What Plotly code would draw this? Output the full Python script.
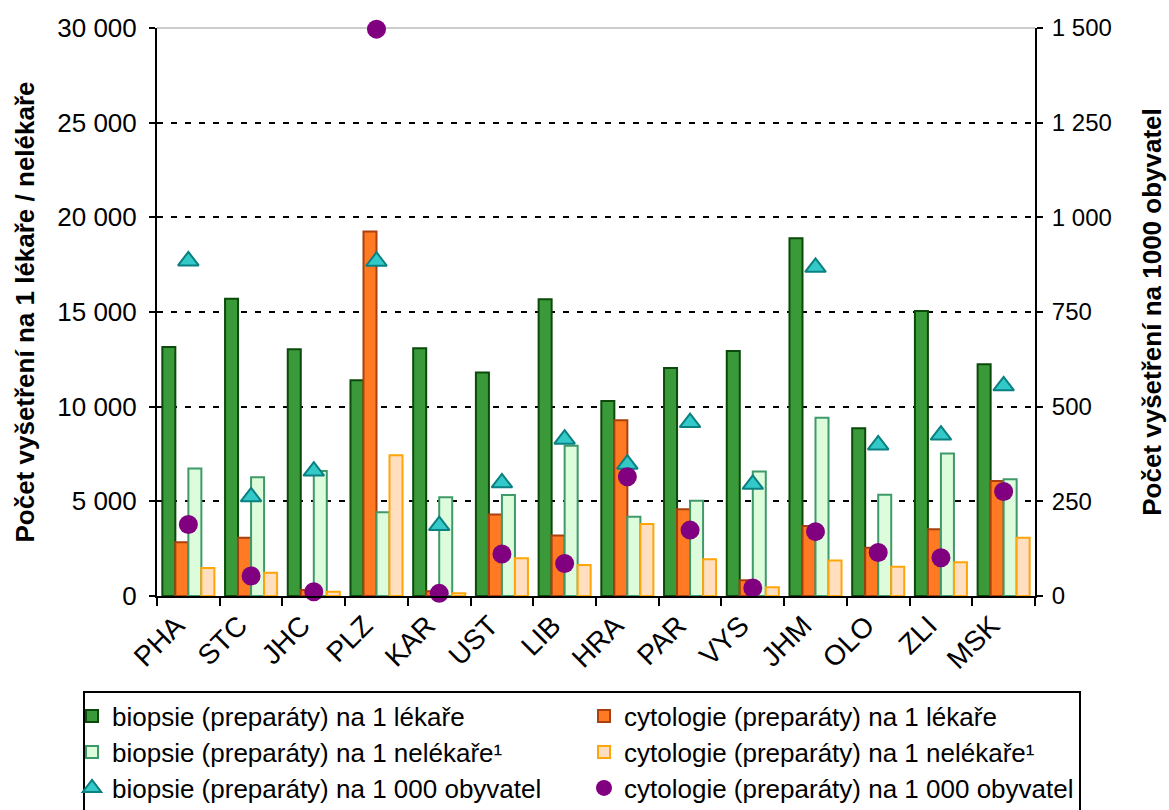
import plotly.graph_objects as go

# Regions (kraje)
regions = ["PHA", "STC", "JHC", "PLZ", "KAR", "UST", "LIB", "HRA", "PAR", "VYS", "JHM", "OLO", "ZLI", "MSK"]

# Examinations per 1 physician / non-physician (left axis)
biopsy_per_doctor = [13150, 15700, 13030, 11400, 13080, 11800, 15680, 10300, 12040, 12940, 18900, 8860, 15050, 12240]
cytology_per_doctor = [2840, 3080, 320, 19250, 250, 4310, 3200, 9280, 4580, 830, 3700, 2550, 3520, 6070]
biopsy_per_nondoctor = [6740, 6270, 6600, 4420, 5210, 5330, 7940, 4190, 5030, 6570, 9420, 5350, 7520, 6160]
cytology_per_nondoctor = [1480, 1230, 220, 7440, 150, 1990, 1640, 3800, 1940, 460, 1870, 1550, 1780, 3080]

# Examinations per 1 000 inhabitants (right axis)
biopsy_per_1000 = [885, 262, 330, 884, 186, 299, 414, 348, 458, 295, 868, 399, 425, 555]
cytology_per_1000 = [189, 53, 11, 1497, 7, 111, 86, 315, 174, 21, 170, 115, 101, 276]

FONT = "Liberation Sans, Arial, sans-serif"

# plot area in pixels (used to place the legend rows and frame in paper units)
W, H = 1169, 810
L, R, T, B = 157, 134, 28, 214
PW, PH = W - L - R, H - T - B


def px_x(px):
    return (px - L) / PW


def px_y(py):
    return (H - B - py) / PH


fig = go.Figure()

bar_styles = [
    ("biopsie (preparáty) na 1 lékaře", biopsy_per_doctor, "#3a9a3a", "#0b4a0b", "legend"),
    ("cytologie (preparáty) na 1 lékaře", cytology_per_doctor, "#ff7a22", "#a8400f", "legend"),
    ("biopsie (preparáty) na 1 nelékaře¹", biopsy_per_nondoctor, "#dcfcdc", "#3f9a6a", "legend2"),
    ("cytologie (preparáty) na 1 nelékaře¹", cytology_per_nondoctor, "#ffdfbf", "#ffa50a", "legend2"),
]
for name, vals, fill, edge, lg in bar_styles:
    fig.add_trace(go.Bar(
        x=regions, y=vals, name=name, legend=lg,
        marker=dict(color=fill, line=dict(color=edge, width=2)),
        yaxis="y",
    ))

fig.add_trace(go.Scatter(
    x=regions, y=biopsy_per_1000, name="biopsie (preparáty) na 1 000 obyvatel",
    mode="markers", yaxis="y2", cliponaxis=False, legend="legend3",
    marker=dict(symbol="triangle-up", size=18, color="#33c9c9",
                line=dict(color="#0a8080", width=2)),
))
fig.add_trace(go.Scatter(
    x=regions, y=cytology_per_1000, name="cytologie (preparáty) na 1 000 obyvatel",
    mode="markers", yaxis="y2", cliponaxis=False, legend="legend3",
    marker=dict(symbol="circle", size=19, color="#800080",
                line=dict(color="#800080", width=0)),
))

legend_common = dict(
    orientation="h", xanchor="left", yanchor="middle", x=px_x(72),
    bgcolor="rgba(0,0,0,0)", borderwidth=0,
    font=dict(size=26), entrywidth=467, entrywidthmode="pixels",
    traceorder="normal", itemwidth=30,
)

fig.update_layout(
    width=W, height=H,
    margin=dict(l=L, r=R, t=T, b=B, autoexpand=False),
    paper_bgcolor="white", plot_bgcolor="white",
    font=dict(family=FONT, color="black", size=24),
    separators=", ",
    barmode="group", bargap=0.17, bargroupgap=0,
    showlegend=True,
    xaxis=dict(
        type="category", range=[-0.5, len(regions) - 0.5],
        showline=True, linecolor="black", linewidth=2,
        ticks="outside", tickson="boundaries", ticklen=8, tickwidth=2, tickcolor="black",
        tickangle=-45, tickfont=dict(size=28), ticklabelshift=-12, showgrid=False,
    ),
    yaxis=dict(
        range=[0, 30000], dtick=5000, tickformat=",d",
        showline=True, linecolor="black", linewidth=2,
        ticks="outside", ticklen=6, tickwidth=2, tickcolor="black", ticklabelstandoff=7,
        showgrid=True, gridcolor="black", gridwidth=2, griddash="6px,8px",
        zeroline=False, tickfont=dict(size=26),
        title=dict(text="<b>Počet vyšetření na 1 lékaře / nelékaře</b>",
                   font=dict(size=26), standoff=15),
    ),
    yaxis2=dict(
        range=[0, 1500], dtick=250, tickformat=",d", overlaying="y", side="right",
        showline=True, linecolor="black", linewidth=2,
        ticks="outside", ticklen=6, tickwidth=2, tickcolor="black", ticklabelstandoff=4,
        showgrid=False, zeroline=False, tickfont=dict(size=24),
        title=dict(text="<b>Počet vyšetření na 1000 obyvatel</b>",
                   font=dict(size=26), standoff=32),
    ),
    legend=dict(legend_common, y=px_y(716)),
    legend2=dict(legend_common, y=px_y(752)),
    legend3=dict(legend_common, y=px_y(788)),
    shapes=[
        # thin frame line along the top edge of the plot area
        dict(type="line", xref="paper", yref="paper", x0=0, x1=1, y0=1, y1=1,
             line=dict(color="#9a9a9a", width=1), layer="below"),
        # frame around the legend rows
        dict(type="rect", xref="paper", yref="paper",
             x0=px_x(84), x1=px_x(1080), y0=px_y(692), y1=px_y(812),
             line=dict(color="black", width=2), fillcolor="rgba(0,0,0,0)", layer="below"),
    ],
)

fig.write_html("out.html")
